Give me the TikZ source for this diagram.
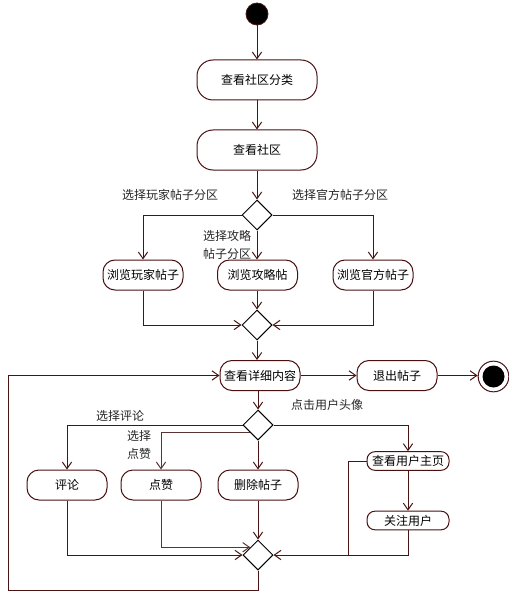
\documentclass[tikz,border=0pt]{standalone}
\usepackage{fontspec}
\setmainfont{Noto Sans CJK SC}
\usetikzlibrary{arrows.meta,shapes.geometric}
\definecolor{ln}{HTML}{4A1414}
\definecolor{bx}{HTML}{4A1010}
\begin{document}
\begin{tikzpicture}[x=0.75pt,y=-0.75pt,
  every node/.style={font=\fontsize{9}{10}\selectfont, inner sep=0pt},
  act/.style={draw=bx, line width=0.75pt, rounded corners=9pt, minimum width=60pt, minimum height=22.5pt},
  bigact/.style={act, rounded corners=12pt, minimum width=90pt, minimum height=30pt},
  smallact/.style={act, rounded corners=6pt, minimum width=61.5pt, minimum height=14pt},
  dec/.style={draw=black, diamond, aspect=1, line width=0.75pt, minimum width=22.5pt, minimum height=22.5pt, inner sep=0pt},
  lbl/.style={align=left, font=\fontsize{9}{10}\selectfont, text=black!85},
  flow/.style={draw=ln, line width=0.75pt, -{Straight Barb[length=5pt,width=7pt]}},
  plain/.style={draw=ln, line width=0.75pt}]
\useasboundingbox (0,0) rectangle (509,599);
% nodes
\node[circle, fill=black, draw=ln, line width=0.6pt, minimum size=16.5pt] (start) at (257,14) {};
\node[bigact] (c1) at (257,80) {查看社区分类};
\node[bigact] (c2) at (257,150) {查看社区};
\node[dec] (d1) at (257,215) {};
\node[act] (b1) at (143,275) {浏览玩家帖子};
\node[act] (b2) at (257.5,275) {浏览攻略帖};
\node[act] (b3) at (373,275) {浏览官方帖子};
\node[dec] (d2) at (257,325) {};
\node[act] (detail) at (260,375.5) {查看详细内容};
\node[act] (exit) at (397,375.5) {退出帖子};
\node[circle, draw=ln, line width=0.75pt, minimum size=23pt] (end) at (493.5,376.5) {};
\node[circle, fill=black, minimum size=16.5pt] (endin) at (493.5,376.5) {};
\node[dec] (d3) at (258,425) {};
\node[act] (comment) at (67,485) {评论};
\node[act] (likes) at (161,485) {点赞};
\node[act] (delete) at (258,485) {删除帖子};
\node[smallact] (upage) at (408,461) {查看用户主页};
\node[smallact] (follow) at (408,520.5) {关注用户};
\node[dec] (d4) at (258,555) {};
\coordinate (join) at (348,555);
\coordinate (lb) at (8,590);
% labels
\node[lbl] (l1) at (170,195) {选择玩家帖子分区};
\node[lbl] (l2) at (340,195) {选择官方帖子分区};
\node[lbl, font=\fontsize{9}{13}\selectfont] (l3) at (227,245) {选择攻略\\帖子分区};
\node[lbl] (l4) at (327,405) {点击用户头像};
\node[lbl] (l5) at (120,416) {选择评论};
\node[lbl, font=\fontsize{9}{14}\selectfont] (l6) at (139,445) {选择\\点赞};
% connectors
\draw[flow] (start) -- (c1);
\draw[flow] (c1) -- (c2);
\draw[flow] (c2) -- (d1);
\draw[flow] (d1.west) -| (b1.north);
\draw[flow] (d1.south) -- (d1.south |- b2.north);
\draw[flow] (d1.east) -| (b3.north);
\draw[flow] (b1.south) |- (d2.west);
\draw[flow] (b2.south -| d2.north) -- (d2.north);
\draw[flow] (b3.south) |- (d2.east);
\draw[flow] (d2.south) -- (d2.south |- detail.north);
\draw[flow] (detail.east) -- (exit.west);
\draw[flow] (exit.east) -- (end.west |- exit.east);
\draw[flow] (detail.south -| d3.north) -- (d3.north);
\draw[flow] (d3.west) -| (comment.north);
\draw[flow, draw=ln!70!gray] (d3.south west) -| (likes.north);
\draw[flow] (d3.south) -- (delete.north);
\draw[flow] (d3.east) -| (upage.north);
\draw[flow] (upage.south) -- (follow.north);
\draw[flow] (comment.south) |- (d4.west);
\draw[flow, draw=ln!70!gray] (likes.south) |- (d4.north west);
\draw[flow] (delete.south) -- (d4.north);
\draw[flow] (follow.south) |- (d4.east);
\draw[plain] (upage.west) -| (join);
\draw[flow] (d4.south) |- (lb) |- (detail.west);
\end{tikzpicture}
\end{document}
